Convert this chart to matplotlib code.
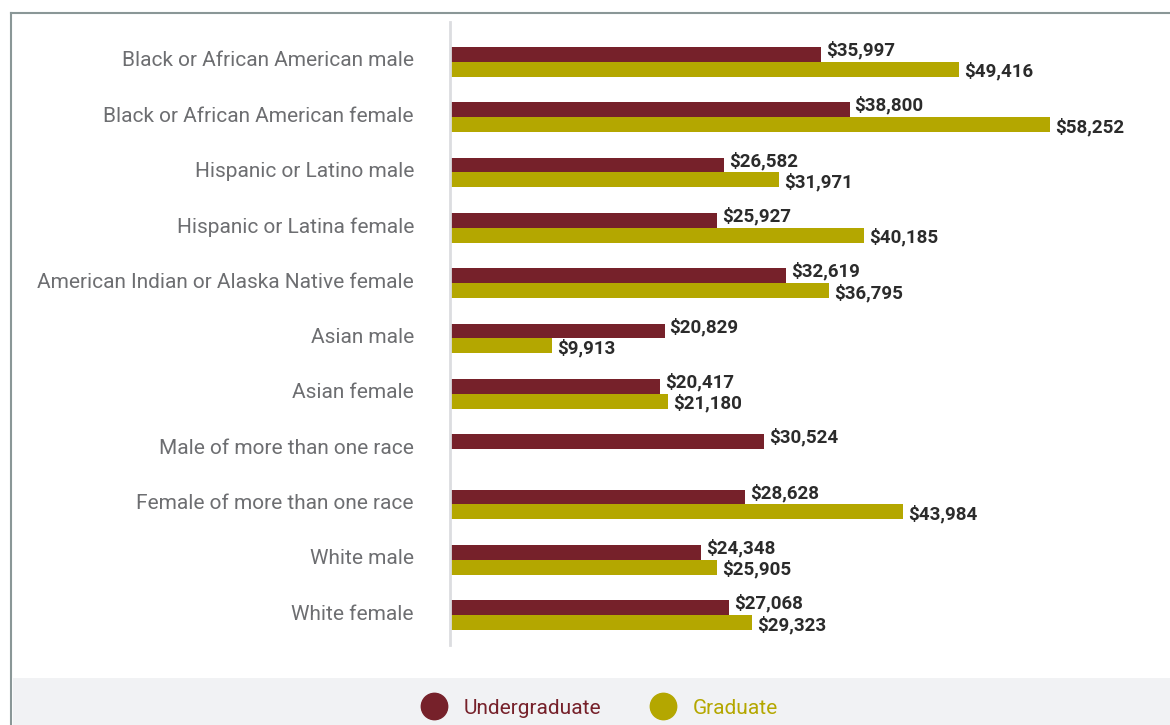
import numpy as np
import matplotlib
matplotlib.use('Agg')
import matplotlib.pyplot as plt
import matplotlib.transforms as mtransforms
from matplotlib.lines import Line2D
from matplotlib.patches import Rectangle

categories = ['Black or African American male', 'Black or African American female',
              'Hispanic or Latino male', 'Hispanic or Latina female',
              'American Indian or Alaska Native female', 'Asian male', 'Asian female',
              'Male of more than one race', 'Female of more than one race',
              'White male', 'White female']
undergrad = [35997, 38800, 26582, 25927, 32619, 20829, 20417, 30524, 28628, 24348, 27068]
graduate = [49416, 58252, 31971, 40185, 36795, 9913, 21180, np.nan, 43984, 25905, 29323]
series_names = ['Undergraduate', 'Graduate']

MAROON = '#76212a'
GOLD = '#b4a700'

plt.rcParams['font.family'] = ['Roboto', 'DejaVu Sans']

W, H = 1170, 725
fig = plt.figure(figsize=(W / 100, H / 100), dpi=100)

# frame + legend band
fig.add_artist(Rectangle((13 / W, 0), 1, 47 / H, transform=fig.transFigure,
                         facecolor='#f1f2f4', edgecolor='none', zorder=0))
fig.add_artist(Line2D([11 / W, 11 / W], [0, 1 - 13 / H], transform=fig.transFigure,
                      color='#8a9797', lw=1.5))
fig.add_artist(Line2D([11 / W, 1], [1 - 13 / H, 1 - 13 / H], transform=fig.transFigure,
                      color='#8a9797', lw=1.5))

ax = fig.add_axes([450 / W, (H - 645) / H, 720 / W, 623 / H])
y = np.arange(len(categories))
h = 0.27
ax.barh(y - h / 2, undergrad, height=h, color=MAROON)
ax.barh(y + h / 2, graduate, height=h, color=GOLD)

for i in range(len(categories)):
    ax.annotate('${:,}'.format(undergrad[i]), (undergrad[i], y[i] - h / 2),
                xytext=(3.5, 3), textcoords='offset points', va='center', ha='left',
                fontsize=13.5, fontweight='bold', color='#2b2b2b')
    if not np.isnan(graduate[i]):
        ax.annotate('${:,}'.format(int(graduate[i])), (graduate[i], y[i] + h / 2),
                    xytext=(3.5, -1.5), textcoords='offset points', va='center', ha='left',
                    fontsize=13.5, fontweight='bold', color='#2b2b2b')

ax.set_xlim(0, 69900)
ax.set_ylim(10.54, -0.72)
ax.set_yticks(y)
ax.set_yticklabels(categories, fontsize=15, color='#6d6e71')
ax.tick_params(axis='y', length=0, pad=26)
shift = mtransforms.ScaledTranslation(0, 3 / 100, fig.dpi_scale_trans)
for lbl in ax.get_yticklabels():
    lbl.set_transform(lbl.get_transform() + shift)
ax.set_xticks([])
for s in ['top', 'right', 'bottom']:
    ax.spines[s].set_visible(False)
ax.spines['left'].set_color('#dcdde0')
ax.spines['left'].set_linewidth(2)

handles = [Line2D([], [], marker='o', ls='none', markersize=19, color=c) for c in [MAROON, GOLD]]
leg = fig.legend(handles, series_names, loc='center', bbox_to_anchor=(0.509, 17 / H),
                 ncol=2, frameon=False, fontsize=15, handletextpad=0.4, columnspacing=2.0)
for t, c in zip(leg.get_texts(), [MAROON, GOLD]):
    t.set_color(c)

fig.savefig('out.png', dpi=100)
